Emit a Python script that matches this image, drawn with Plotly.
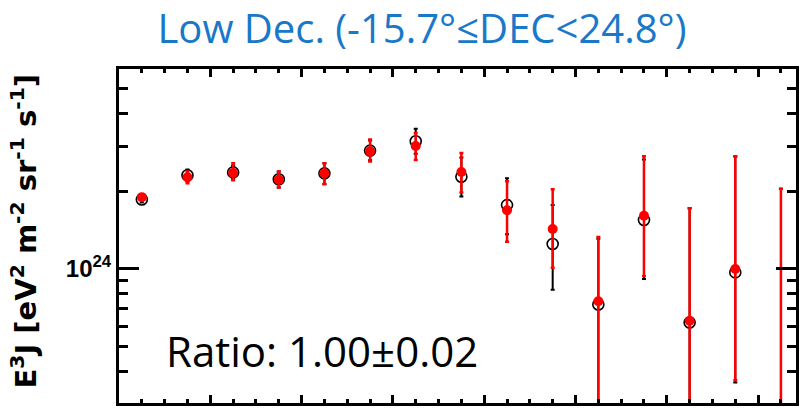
import plotly.graph_objects as go

# log10(E/eV) bin centres
lgE = [18.85, 18.95, 19.05, 19.15, 19.25, 19.35, 19.45, 19.55,
       19.65, 19.75, 19.85, 19.95, 20.05, 20.15, 20.25]

UNIT = 1e24  # values below are E^3 J in units of 1e24 eV^2 m^-2 sr^-1 s^-1

# black open circles
black_val = [1.86, 2.31, 2.37, 2.23, 2.35, 2.88, 3.13, 2.28, 1.77, 1.25, 0.728, 1.55, 0.62, 0.97, 0.20]
black_hi  = [1.91, 2.43, 2.52, 2.39, 2.57, 3.15, 3.50, 2.71, 2.25, 1.77, 1.31, 2.66, 1.72, 2.73, 2.05]
black_lo  = [1.81, 2.19, 2.23, 2.07, 2.13, 2.64, 2.80, 1.91, 1.365, 0.83, 0.05, 0.915, 0.05, 0.363, 0.05]

# red filled circles
red_val = [1.90, 2.27, 2.36, 2.22, 2.35, 2.86, 3.00, 2.38, 1.69, 1.43, 0.75, 1.61, 0.63, 1.00, 0.20]
red_hi  = [1.95, 2.39, 2.57, 2.39, 2.57, 3.18, 3.37, 2.82, 2.19, 2.04, 1.33, 2.74, 1.72, 2.74, 2.05]
red_lo  = [1.85, 2.15, 2.21, 2.07, 2.135, 2.61, 2.65, 1.98, 1.275, 1.01, 0.05, 0.94, 0.05, 0.37, 0.05]

title_text = "Low Dec. (-15.7°≤DEC<24.8°)"
ratio_text = "Ratio: 1.00±0.02"
ytitle_text = "<b>E<sup>3</sup>J [eV<sup>2</sup> m<sup>-2</sup> sr<sup>-1</sup> s<sup>-1</sup>]</b>"

y_major = [1e24]
y_major_text = ["<b>10<sup>24</sup></b>"]
y_minor = [3e23, 4e23, 5e23, 6e23, 7e23, 8e23, 9e23, 2e24, 3e24, 4e24, 5e24, 6e24]
x_major = [19.0, 19.2, 19.4, 19.6, 19.8, 20.0, 20.2]


def scaled(a):
    return [v * UNIT for v in a]


def errs(val, hi, lo):
    plus = [(h - v) * UNIT for v, h in zip(val, hi)]
    minus = [(v - l) * UNIT for v, l in zip(val, lo)]
    return plus, minus


bp, bm = errs(black_val, black_hi, black_lo)
rp, rm = errs(red_val, red_hi, red_lo)

fig = go.Figure()
fig.add_trace(go.Scatter(
    x=lgE, y=scaled(black_val), mode="markers",
    marker=dict(symbol="circle-open", size=11, color="black", line=dict(width=1.6, color="black")),
    error_y=dict(type="data", symmetric=False, array=bp, arrayminus=bm,
                 color="black", thickness=2, width=2),
    showlegend=False,
))
fig.add_trace(go.Scatter(
    x=lgE, y=scaled(red_val), mode="markers",
    marker=dict(symbol="circle", size=10, color="#ff0000"),
    error_y=dict(type="data", symmetric=False, array=rp, arrayminus=rm,
                 color="#ff0000", thickness=2.5, width=2),
    showlegend=False,
))

fig.update_layout(
    width=803, height=409,
    margin=dict(l=119, r=4, t=69, b=6),
    paper_bgcolor="white", plot_bgcolor="white",
    title=dict(text=title_text, x=0.5255, xref="container", xanchor="center",
               y=0.895, yref="container", yanchor="bottom",
               font=dict(family="Open Sans", size=40, color="#1a78c8")),
    annotations=[
        dict(text=ratio_text, xref="paper", yref="paper", x=0.066, y=0.157,
             xanchor="left", yanchor="middle", showarrow=False,
             font=dict(family="Open Sans", size=42, color="black")),
        dict(text=ytitle_text, xref="paper", yref="paper", x=-0.141, y=0.515,
             xanchor="center", yanchor="middle", textangle=-90, showarrow=False,
             font=dict(family="DejaVu Sans", size=29, color="black")),
    ],
)

fig.update_xaxes(
    range=[18.8, 20.283], showgrid=False, zeroline=False,
    showline=True, linewidth=3, linecolor="black", mirror="ticks",
    ticks="inside", tickvals=x_major, ticklen=8, tickwidth=3, tickcolor="black",
    showticklabels=False,
    minor=dict(dtick=0.05, tick0=18.8, ticks="inside", ticklen=4, tickwidth=2.5, tickcolor="black", showgrid=False),
)
fig.update_yaxes(
    type="log", range=[23.48, 24.776], showgrid=False, zeroline=False,
    showline=True, linewidth=3, linecolor="black", mirror="ticks",
    ticks="inside", tickvals=y_major, ticktext=y_major_text, ticklen=20, tickwidth=3,
    tickcolor="black", ticklabelstandoff=0,
    tickfont=dict(family="Liberation Sans", size=24, color="black"),
    minor=dict(tickvals=y_minor, ticks="inside", ticklen=9, tickwidth=2.5, tickcolor="black", showgrid=False),
)

fig.write_html("out.html")
